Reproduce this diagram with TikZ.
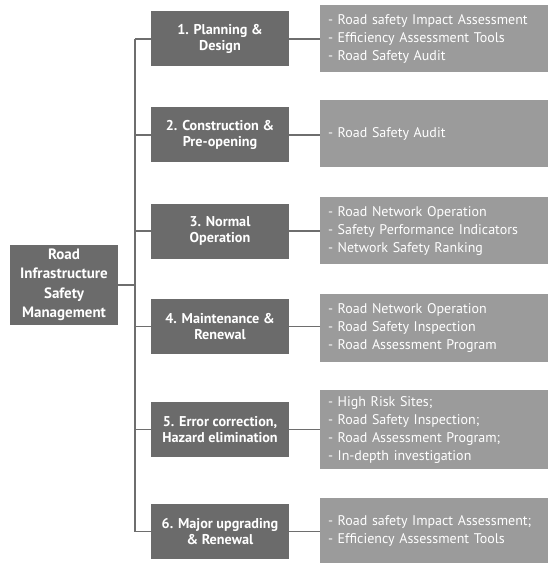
\documentclass[tikz,border=0pt]{standalone}
\usepackage{fontspec}
\setmainfont{PT Sans}
\definecolor{darkbox}{HTML}{6B6B6B}
\definecolor{lightbox}{HTML}{9B9B9B}
\definecolor{linecol}{HTML}{6E6E6E}
\begin{document}
\begin{tikzpicture}[x=1pt,y=-1pt,
  rootbox/.style={rectangle,fill=darkbox,text=white,font=\bfseries\fontsize{15}{19.5}\selectfont,align=center,minimum width=108pt,minimum height=80pt,inner sep=1pt},
  stagebox/.style={rectangle,fill=darkbox,text=white,font=\bfseries\fontsize{14.2}{16.5}\selectfont,align=center,minimum width=138pt,minimum height=55pt,inner sep=1pt},
  toolbox/.style={rectangle,fill=lightbox,text=white,font=\fontsize{14}{18}\selectfont,align=left,text width=212pt,minimum width=228pt,inner xsep=8pt,inner ysep=2pt},
  conn/.style={draw=linecol,line width=1.6pt},
  thinconn/.style={draw=linecol,line width=1.1pt}]
\useasboundingbox (0,0) rectangle (550,564);
\node[rootbox] (root) at (64,285) {Road\\Infrastructure\\Safety\\Management};
\node[stagebox] (m1) at (220,39) {1. Planning \&\\Design};
\node[stagebox] (m2) at (220,135) {2. Construction \&\\Pre-opening};
\node[stagebox] (m3) at (220,231) {3. Normal\\Operation};
\node[stagebox] (m4) at (220,326.5) {4. Maintenance \&\\Renewal};
\node[stagebox] (m5) at (220,429.5) {5. Error correction,\\Hazard elimination};
\node[stagebox] (m6) at (220,531.5) {6. Major upgrading\\\& Renewal};
\node[toolbox,minimum height=67pt] (r1) at (434,38.5) {- Road safety Impact Assessment\\- Efficiency Assessment Tools\\- Road Safety Audit};
\node[toolbox,minimum height=67pt] (r2) at (434,133.5) {- Road Safety Audit};
\node[toolbox,minimum height=67pt] (r3) at (434,230.5) {- Road Network Operation\\- Safety Performance Indicators\\- Network Safety Ranking};
\node[toolbox,minimum height=68pt] (r4) at (434,328) {- Road Network Operation\\- Road Safety Inspection\\- Road Assessment Program};
\node[toolbox,minimum height=79pt] (r5) at (434,429.5) {- High Risk Sites;\\- Road Safety Inspection;\\- Road Assessment Program;\\- In-depth investigation};
\node[toolbox,minimum height=65pt] (r6) at (434,530.5) {- Road safety Impact Assessment;\\- Efficiency Assessment Tools};
\coordinate (bt) at (135,39);
\coordinate (bb) at (135,531.5);
\draw[conn] (bt) -- (bb);
\draw[conn] (root.east) -- (root.east -| bt);
\foreach \i in {1,...,6}{
  \draw[conn] (m\i.west) -- (m\i.west -| bt);
  \draw[thinconn] (m\i.east) -- (m\i.east -| r\i.west);
}
\end{tikzpicture}
\end{document}
